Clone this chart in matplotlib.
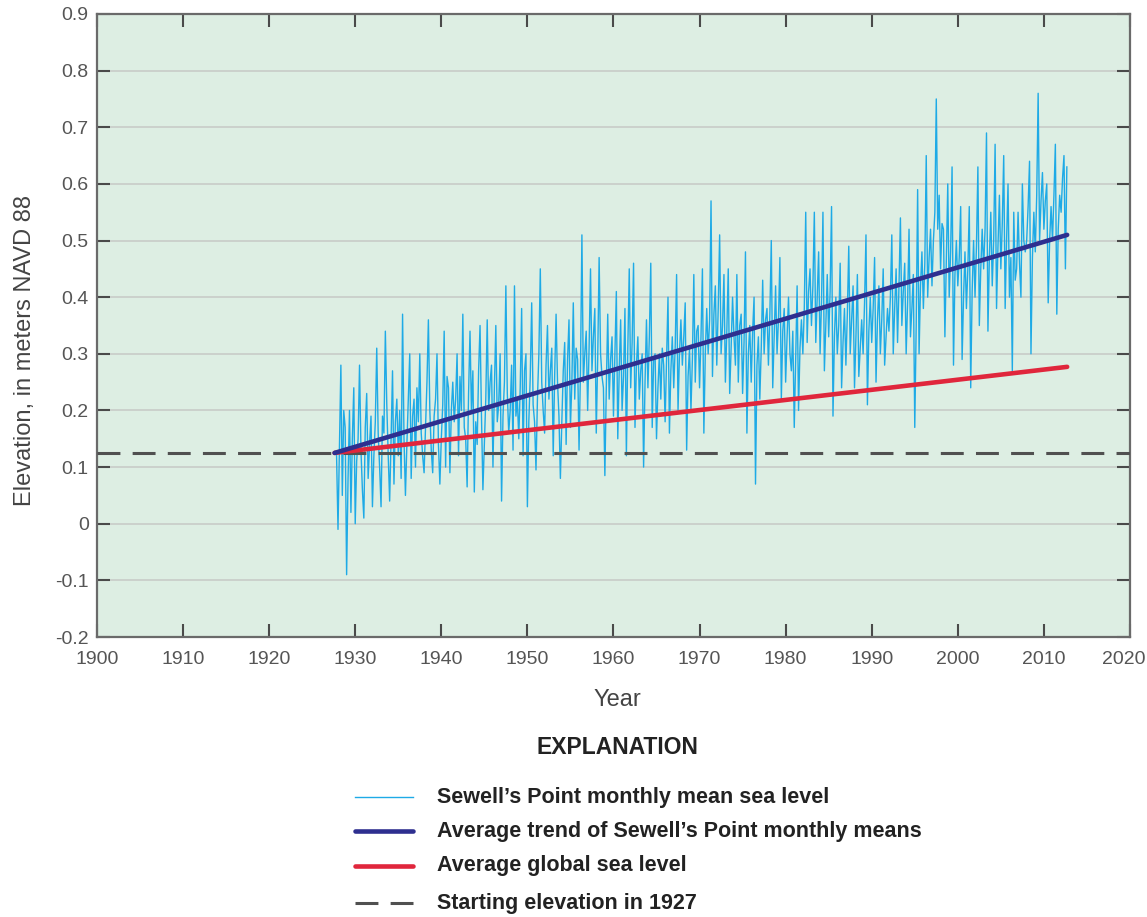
import numpy as np
import matplotlib
matplotlib.use('Agg')
import matplotlib.pyplot as plt
import matplotlib.transforms as mtransforms
from matplotlib.lines import Line2D

# Sewell's Point sea level at two-month steps
level_start = 1927.83
level_step = 1 / 6
sewells_level = [
    0.12,
    -0.01, 0.14, 0.28, 0.05, 0.20, 0.17,     # 1928
    -0.09, 0.08, 0.20, 0.02, 0.15, 0.24,     # 1929
    0.00, 0.11, 0.15, 0.28, 0.13, 0.06,      # 1930
    0.01, 0.17, 0.23, 0.08, 0.14, 0.19,      # 1931
    0.03, 0.12, 0.18, 0.31, 0.16, 0.10,      # 1932
    0.03, 0.19, 0.16, 0.34, 0.21, 0.12,      # 1933
    0.04, 0.15, 0.27, 0.07, 0.18, 0.22,      # 1934
    0.12, 0.20, 0.08, 0.37, 0.15, 0.05,      # 1935
    0.14, 0.22, 0.30, 0.08, 0.19, 0.22,      # 1936
    0.10, 0.24, 0.18, 0.30, 0.16, 0.12,      # 1937
    0.09, 0.17, 0.25, 0.36, 0.20, 0.13,      # 1938
    0.09, 0.19, 0.22, 0.30, 0.14, 0.07,      # 1939
    0.15, 0.21, 0.34, 0.10, 0.26, 0.24,      # 1940
    0.09, 0.20, 0.25, 0.18, 0.22, 0.30,      # 1941
    0.12, 0.26, 0.20, 0.37, 0.17, 0.15,      # 1942
    0.065, 0.23, 0.34, 0.20, 0.27, 0.056,    # 1943
    0.18, 0.14, 0.27, 0.35, 0.19, 0.06,      # 1944
    0.14, 0.22, 0.36, 0.20, 0.25, 0.28,      # 1945
    0.10, 0.24, 0.35, 0.18, 0.21, 0.30,      # 1946
    0.04, 0.19, 0.25, 0.42, 0.23, 0.16,      # 1947
    0.20, 0.28, 0.13, 0.42, 0.19, 0.22,      # 1948
    0.15, 0.24, 0.38, 0.12, 0.27, 0.30,      # 1949
    0.03, 0.18, 0.26, 0.39, 0.21, 0.18,      # 1950
    0.095, 0.22, 0.30, 0.45, 0.25, 0.20,     # 1951
    0.16, 0.28, 0.35, 0.22, 0.27, 0.31,      # 1952
    0.12, 0.26, 0.37, 0.25, 0.19, 0.08,      # 1953
    0.18, 0.27, 0.32, 0.14, 0.29, 0.36,      # 1954
    0.17, 0.25, 0.39, 0.22, 0.31, 0.29,      # 1955
    0.13, 0.27, 0.51, 0.25, 0.30, 0.34,      # 1956
    0.20, 0.31, 0.45, 0.27, 0.33, 0.38,      # 1957
    0.16, 0.29, 0.47, 0.30, 0.26, 0.24,      # 1958
    0.085, 0.24, 0.37, 0.22, 0.29, 0.33,     # 1959
    0.19, 0.30, 0.41, 0.15, 0.27, 0.36,      # 1960
    0.20, 0.26, 0.38, 0.12, 0.31, 0.45,      # 1961
    0.24, 0.32, 0.46, 0.17, 0.28, 0.33,      # 1962
    0.22, 0.27, 0.30, 0.10, 0.25, 0.36,      # 1963
    0.24, 0.33, 0.46, 0.17, 0.29, 0.30,      # 1964
    0.15, 0.24, 0.30, 0.22, 0.31, 0.28,      # 1965
    0.18, 0.29, 0.40, 0.16, 0.27, 0.33,      # 1966
    0.24, 0.31, 0.44, 0.20, 0.30, 0.36,      # 1967
    0.28, 0.33, 0.39, 0.13, 0.26, 0.31,      # 1968
    0.20, 0.29, 0.44, 0.25, 0.34, 0.35,      # 1969
    0.24, 0.33, 0.45, 0.16, 0.30, 0.38,      # 1970
    0.30, 0.36, 0.57, 0.26, 0.37, 0.42,      # 1971
    0.28, 0.38, 0.51, 0.30, 0.35, 0.44,      # 1972
    0.25, 0.34, 0.45, 0.23, 0.31, 0.40,      # 1973
    0.33, 0.28, 0.44, 0.25, 0.35, 0.37,      # 1974
    0.23, 0.32, 0.48, 0.16, 0.30, 0.35,      # 1975
    0.25, 0.34, 0.40, 0.07, 0.28, 0.33,      # 1976
    0.22, 0.31, 0.43, 0.30, 0.36, 0.38,      # 1977
    0.28, 0.37, 0.50, 0.24, 0.33, 0.42,      # 1978
    0.30, 0.36, 0.47, 0.22, 0.34, 0.38,      # 1979
    0.25, 0.33, 0.40, 0.30, 0.27, 0.34,      # 1980
    0.17, 0.29, 0.42, 0.20, 0.31, 0.36,      # 1981
    0.30, 0.38, 0.55, 0.32, 0.41, 0.45,      # 1982
    0.35, 0.42, 0.55, 0.32, 0.40, 0.48,      # 1983
    0.30, 0.39, 0.55, 0.27, 0.35, 0.44,      # 1984
    0.33, 0.41, 0.56, 0.19, 0.33, 0.40,      # 1985
    0.30, 0.35, 0.46, 0.24, 0.32, 0.38,      # 1986
    0.28, 0.37, 0.49, 0.30, 0.36, 0.42,      # 1987
    0.24, 0.33, 0.44, 0.26, 0.31, 0.36,      # 1988
    0.30, 0.39, 0.51, 0.21, 0.34, 0.40,      # 1989
    0.32, 0.38, 0.47, 0.25, 0.36, 0.42,      # 1990
    0.30, 0.36, 0.45, 0.28, 0.33, 0.38,      # 1991
    0.34, 0.40, 0.51, 0.30, 0.38, 0.45,      # 1992
    0.32, 0.42, 0.54, 0.35, 0.41, 0.46,      # 1993
    0.30, 0.39, 0.52, 0.33, 0.38, 0.44,      # 1994
    0.17, 0.35, 0.59, 0.30, 0.42, 0.48,      # 1995
    0.38, 0.46, 0.65, 0.40, 0.47, 0.52,      # 1996
    0.42, 0.50, 0.55, 0.75, 0.52, 0.58,      # 1997
    0.45, 0.53, 0.52, 0.33, 0.46, 0.60,      # 1998
    0.40, 0.48, 0.63, 0.28, 0.44, 0.50,      # 1999
    0.42, 0.47, 0.56, 0.29, 0.40, 0.48,      # 2000
    0.38, 0.45, 0.56, 0.24, 0.41, 0.50,      # 2001
    0.40, 0.49, 0.63, 0.35, 0.45, 0.52,      # 2002
    0.45, 0.52, 0.69, 0.34, 0.47, 0.55,      # 2003
    0.42, 0.50, 0.67, 0.38, 0.49, 0.58,      # 2004
    0.45, 0.53, 0.65, 0.38, 0.50, 0.60,      # 2005
    0.40, 0.47, 0.27, 0.55, 0.43, 0.45,      # 2006
    0.55, 0.46, 0.40, 0.60, 0.50, 0.48,      # 2007
    0.50, 0.56, 0.64, 0.30, 0.47, 0.55,      # 2008
    0.48, 0.58, 0.76, 0.50, 0.57, 0.62,      # 2009
    0.52, 0.57, 0.60, 0.39, 0.50, 0.56,      # 2010
    0.50, 0.58, 0.67, 0.37, 0.52, 0.58,      # 2011
    0.55, 0.61, 0.65, 0.45, 0.63,            # 2012
]

trend_years = [1927.6, 2012.7]
trend_level = [0.125, 0.51]
global_years = [1927.6, 2012.7]
global_level = [0.125, 0.277]
start_elevation = 0.125

legend_labels = [
    "Sewell\u2019s Point monthly mean sea level",
    "Average trend of Sewell\u2019s Point monthly means",
    "Average global sea level",
    "Starting elevation in 1927",
]

FONT = ['Liberation Sans', 'DejaVu Sans']
TICK_GRAY = '#555555'

fig = plt.figure(figsize=(11.47, 9.17), dpi=100)
ax = fig.add_axes([97 / 1147, 1 - 637 / 917, (1130 - 97) / 1147, (637 - 14) / 917])
ax.set_facecolor('#ddeee3')

years = level_start + level_step * np.arange(len(sewells_level))

data_style = dict(color='#1eaae6', lw=1.0)
trend_style = dict(color='#2e2f8f', lw=3.3, solid_capstyle='round')
global_style = dict(color='#e0263c', lw=3.3, solid_capstyle='round')
dash_style = dict(color='#505050', lw=2.2, dashes=(7.5, 4.0))

ax.plot(years, sewells_level, zorder=2, **data_style)
ax.axhline(start_elevation, zorder=3, **dash_style)
ax.plot(global_years, global_level, zorder=4, **global_style)
ax.plot(trend_years, trend_level, zorder=5, **trend_style)

yticks = np.round(np.arange(-0.2, 0.91, 0.1), 1)
ax.set_xlim(1900, 2020)
ax.set_ylim(-0.2, 0.9)
ax.set_xticks(np.arange(1900, 2021, 10))
ax.set_yticks(yticks)
ax.set_yticklabels([f"{v:g}" for v in yticks])
ax.yaxis.grid(True, color='#c6c9c6', lw=1.1, zorder=1)
ax.set_axisbelow(True)

ax.tick_params(axis='both', direction='in', length=9.5, width=1.5, color='#4a4a4a',
               labelcolor=TICK_GRAY, labelsize=14)
ax.tick_params(axis='x', top=True, pad=10)
ax.tick_params(axis='y', right=True, pad=6)
for lbl in ax.get_xticklabels() + ax.get_yticklabels():
    lbl.set_family(FONT)
# the last year label sits at the picture's right edge; nudge it in a little
last = ax.get_xticklabels()[-1]
last.set_transform(last.get_transform() + mtransforms.ScaledTranslation(-6 / 100, 0, fig.dpi_scale_trans))
for sp in ax.spines.values():
    sp.set_color('#6a6a6a')
    sp.set_linewidth(1.6)

fig.text(25 / 1147, 1 - 351 / 917, "Elevation, in meters NAVD 88", rotation=90,
         ha='center', va='center', fontsize=17, color='#444444', family=FONT)
fig.text(617 / 1147, 1 - 700 / 917, "Year", ha='center', va='center',
         fontsize=17, color='#444444', family=FONT)

# Explanation block
fig.text(617 / 1147, 1 - 748 / 917, "EXPLANATION", ha='center', va='center',
         fontsize=16.5, fontweight='bold', color='#222222', family=FONT)
row_y = [797, 831, 866, 903]
styles = [data_style, trend_style, global_style, dash_style]
for y, style, label in zip(row_y, styles, legend_labels):
    yf = 1 - y / 917
    fig.add_artist(Line2D([355 / 1147, 413 / 1147], [yf, yf], transform=fig.transFigure, **style))
    fig.text(437 / 1147, yf, label, ha='left', va='center', fontsize=15.5,
             fontweight='bold', color='#222222', family=FONT)

fig.savefig('out.png', dpi=100, facecolor='white')
